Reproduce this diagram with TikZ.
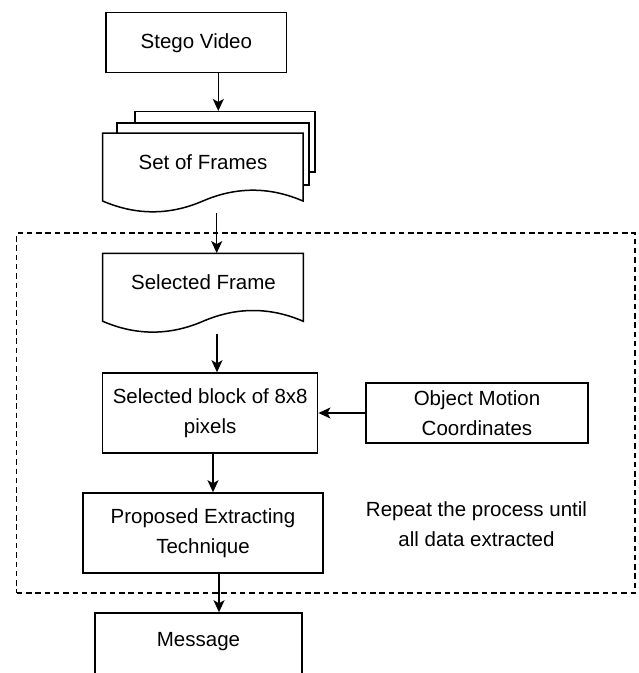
\documentclass[tikz,border=0pt]{standalone}
\usepackage{fontspec}
\setmainfont{Liberation Sans}
\usetikzlibrary{arrows.meta,calc}
\begin{document}
\begin{tikzpicture}[x=1pt,y=-1pt,
  txt/.style={font=\fontsize{20.5}{30.5}\selectfont, align=center, inner sep=0pt},
  box/.style={txt, draw, line width=1.5pt, fill=white, rectangle},
  anchorbox/.style={rectangle, inner sep=0pt},
  arr/.style={line width=1.5pt, -{Stealth[length=12pt,width=11pt,inset=3pt]}},
  docshape/.style={draw, line width=1.5pt, fill=white, line join=miter},
  loopbox/.style={draw, line width=1.3pt, dash pattern=on 5.5pt off 3.8pt, inner sep=0pt}]
\useasboundingbox (0,0) rectangle (639,673);

% dashed loop frame
\node[loopbox, minimum width=618.3pt, minimum height=360pt] (loop) at (325.85,413) {};

% Stego Video
\node[box, minimum width=180.7pt, minimum height=60pt] (sv) at (196.35,42.7) {Stego Video};

% Set of Frames (stacked documents)
\node[box, minimum width=180pt, minimum height=60.3pt] (back) at (225,141.85) {};
\node[box, minimum width=192pt, minimum height=62pt] (mid) at (213,154) {};
\draw[docshape] (102.7,133) -- (303,133) -- (303,201)
  .. controls (269.6,186.6) and (236.2,186.6) .. (202.85,201)
  .. controls (169.5,215.4) and (136.1,215.4) .. (102.7,201) -- cycle;
\node[anchorbox, minimum width=200.3pt, minimum height=80pt] (front) at (202.85,173) {};
\node[txt] (frames) at (203,161.7) {Set of Frames};

% Selected Frame (document)
\draw[docshape] (102.7,253.3) -- (303.3,253.3) -- (303.3,321.3)
  .. controls (269.87,306.9) and (236.43,306.9) .. (203,321.3)
  .. controls (169.57,335.7) and (136.13,335.7) .. (102.7,321.3) -- cycle;
\node[anchorbox, minimum width=200.6pt, minimum height=80pt] (sf) at (203,293.3) {};
\node[txt] (sftext) at (203.5,281.7) {Selected Frame};

% Boxes
\node[box, minimum width=215pt, minimum height=80pt] (blk) at (210.2,413) {Selected block of 8x8\\pixels};
\node[box, minimum width=222pt, minimum height=60pt] (omc) at (477,413) {Object Motion\\Coordinates};
\node[box, minimum width=240pt, minimum height=80pt] (pet) at (203,533) {Proposed Extracting\\Technique};
\node[box, minimum width=207pt, minimum height=70pt] (msg) at (198.5,648) {};
\node[txt] (msgtext) at (198.5,642) {Message};
\node[txt] (rep) at (476.5,524) {Repeat the process until\\all data extracted};

% connectors
\coordinate (a1) at ([xshift=21.95pt]sv.south);
\draw[arr] (a1) -- (a1 |- back.north);
\coordinate (a2) at ([xshift=13.85pt]front.south);
\draw[arr] (a2) -- (a2 |- sf.north);
\coordinate (a3) at ([xshift=14pt]sf.south);
\draw[arr] (a3) -- (a3 |- blk.north);
\coordinate (a4) at ([xshift=2.8pt]blk.south);
\draw[arr] (a4) -- (a4 |- pet.north);
\coordinate (a5) at ([xshift=16pt]pet.south);
\draw[arr] (a5) -- (a5 |- msg.north);
\draw[arr] (omc.west) -- (blk.east);
\end{tikzpicture}
\end{document}
